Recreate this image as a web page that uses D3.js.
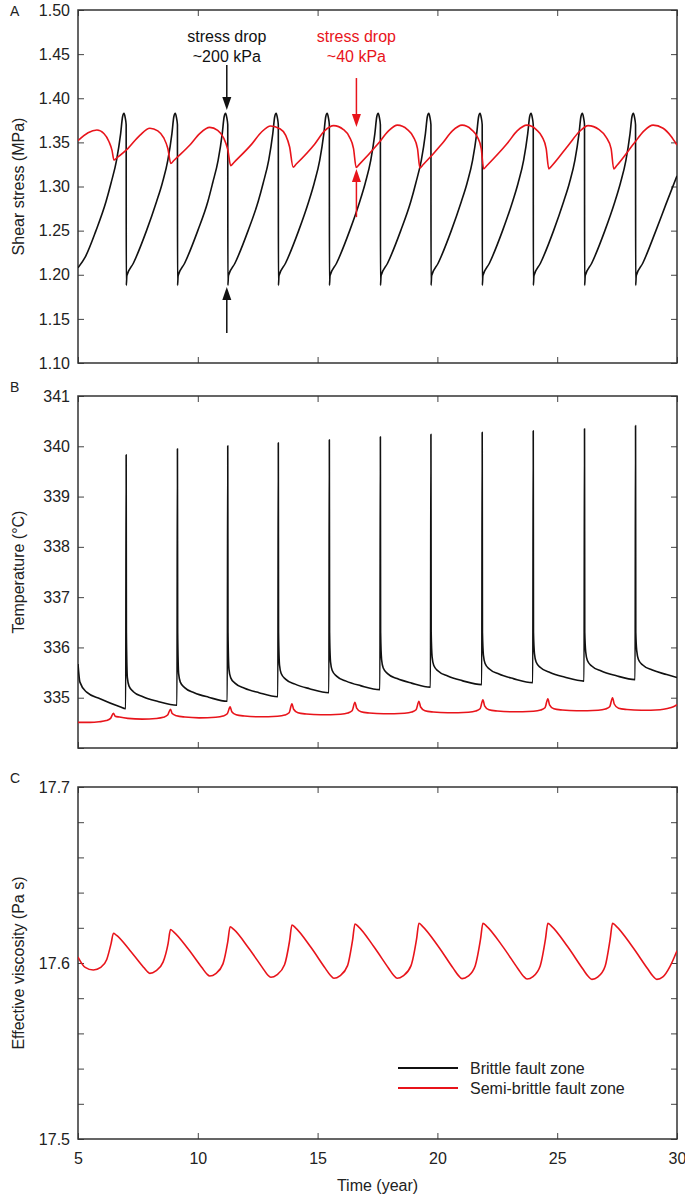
<!DOCTYPE html>
<meta charset="utf-8">
<style>
  body { margin: 0; background: #fff; }
  svg text { font-family: "Liberation Sans", Arial, Helvetica, sans-serif; fill: #222; }
</style>
<body>
<div id="chart"></div>
<script src="https://cdn.jsdelivr.net/npm/d3@7"></script>
<script>
// ---- data ----
var timeTicks = [5, 10, 15, 20, 25, 30];
var stressTicks = [1.10, 1.15, 1.20, 1.25, 1.30, 1.35, 1.40, 1.45, 1.50];
var tempTicks = [334, 335, 336, 337, 338, 339, 340, 341];
var tempLabels = [335, 336, 337, 338, 339, 340, 341];
var viscTicks = [17.50, 17.52, 17.54, 17.56, 17.58, 17.60, 17.62, 17.64, 17.66, 17.68, 17.70];
var viscLabels = [17.5, 17.6, 17.7];
var seriesNames = ["Brittle fault zone", "Semi-brittle fault zone"];

// [time (year), shear stress (MPa)]
var stressBrittle = [
  [5.00,1.208],[5.30,1.220],[5.75,1.250],[6.17,1.283],[6.38,1.304],[6.61,1.330],[6.78,1.360],[6.86,1.379],[6.92,1.383],[6.97,1.378],[7.01,1.370],[7.015,1.188],[7.04,1.199],
  [7.31,1.213],[7.86,1.250],[8.28,1.283],[8.52,1.304],[8.75,1.330],[8.92,1.360],[9.00,1.379],[9.06,1.383],[9.11,1.378],[9.15,1.370],[9.155,1.188],[9.18,1.199],
  [9.45,1.213],[10.00,1.250],[10.42,1.283],[10.62,1.304],[10.85,1.330],[11.02,1.360],[11.10,1.379],[11.16,1.383],[11.21,1.378],[11.25,1.370],[11.255,1.188],[11.28,1.199],
  [11.55,1.213],[12.10,1.250],[12.52,1.283],[12.73,1.304],[12.96,1.330],[13.13,1.360],[13.21,1.379],[13.27,1.383],[13.32,1.378],[13.36,1.370],[13.365,1.188],[13.39,1.199],
  [13.66,1.213],[14.21,1.250],[14.63,1.283],[14.86,1.304],[15.09,1.330],[15.26,1.360],[15.34,1.379],[15.40,1.383],[15.45,1.378],[15.49,1.370],[15.495,1.188],[15.52,1.199],
  [15.79,1.213],[16.34,1.250],[16.76,1.283],[16.99,1.304],[17.22,1.330],[17.39,1.360],[17.47,1.379],[17.53,1.383],[17.58,1.378],[17.62,1.370],[17.625,1.188],[17.65,1.199],
  [17.92,1.213],[18.47,1.250],[18.89,1.283],[19.10,1.304],[19.33,1.330],[19.50,1.360],[19.58,1.379],[19.64,1.383],[19.69,1.378],[19.73,1.370],[19.735,1.188],[19.76,1.199],
  [20.03,1.213],[20.58,1.250],[21.00,1.283],[21.24,1.304],[21.47,1.330],[21.64,1.360],[21.72,1.379],[21.78,1.383],[21.83,1.378],[21.87,1.370],[21.875,1.188],[21.90,1.199],
  [22.17,1.213],[22.72,1.250],[23.14,1.283],[23.37,1.304],[23.60,1.330],[23.77,1.360],[23.85,1.379],[23.91,1.383],[23.96,1.378],[24.00,1.370],[24.005,1.188],[24.03,1.199],
  [24.30,1.213],[24.85,1.250],[25.27,1.283],[25.51,1.304],[25.74,1.330],[25.91,1.360],[25.99,1.379],[26.05,1.383],[26.10,1.378],[26.14,1.370],[26.145,1.188],[26.17,1.199],
  [26.44,1.213],[26.99,1.250],[27.41,1.283],[27.64,1.304],[27.87,1.330],[28.04,1.360],[28.12,1.379],[28.18,1.383],[28.23,1.378],[28.27,1.370],[28.275,1.188],[28.30,1.199],
  [28.57,1.213],[29.12,1.250],[29.54,1.280],[30.00,1.312]
];

var stressSemi = [
  [5.00,1.352],[5.42,1.361],[5.79,1.364],[6.08,1.360],[6.29,1.351],[6.42,1.341],[6.50,1.330],
  [6.62,1.3325],[7.08,1.343],[7.58,1.358],[8.00,1.366],[8.33,1.363],[8.58,1.355],[8.75,1.343],[8.875,1.326],
  [8.99,1.3292],[9.67,1.347],[10.08,1.360],[10.50,1.367],[10.83,1.3635],[11.08,1.355],[11.25,1.342],[11.375,1.3235],
  [11.49,1.3267],[12.25,1.348],[12.67,1.362],[13.04,1.3685],[13.42,1.3655],[13.67,1.358],[13.83,1.345],[13.98,1.322],
  [14.10,1.3252],[14.875,1.348],[15.29,1.363],[15.67,1.369],[16.08,1.3645],[16.33,1.356],[16.50,1.343],[16.61,1.3215],
  [16.73,1.3248],[17.54,1.349],[17.96,1.363],[18.33,1.3695],[18.75,1.3645],[19.00,1.356],[19.17,1.343],[19.27,1.321],
  [19.39,1.3243],[20.21,1.349],[20.625,1.363],[21.03,1.3695],[21.42,1.3645],[21.67,1.356],[21.83,1.343],[21.93,1.320],
  [22.05,1.3233],[22.92,1.349],[23.33,1.363],[23.74,1.3695],[24.125,1.3645],[24.375,1.356],[24.54,1.343],[24.65,1.320],
  [24.77,1.3233],[25.50,1.348],[25.92,1.362],[26.29,1.369],[26.75,1.3645],[27.04,1.356],[27.25,1.343],[27.36,1.320],
  [27.48,1.3235],[28.21,1.349],[28.625,1.363],[29.00,1.3695],[29.42,1.366],[29.75,1.357],[30.00,1.347]
];

// [time (year), temperature (°C)]
var tempBrittle = [
  [5.00,335.67],[5.08,335.31],[5.36,335.11],[5.92,334.98],[6.75,334.82],[6.99,334.78],[7.01,339.83],
  [7.02,336.3],[7.06,335.40],[7.13,335.23],[7.31,335.12],[7.71,335.02],[8.31,334.93],[9.13,334.85],[9.15,339.95],
  [9.16,336.3],[9.20,335.48],[9.27,335.31],[9.45,335.20],[9.85,335.10],[10.45,335.01],[11.23,334.93],[11.25,340.01],
  [11.26,336.3],[11.30,335.57],[11.37,335.40],[11.55,335.29],[11.95,335.19],[12.55,335.10],[13.34,335.02],[13.36,340.07],
  [13.37,336.3],[13.41,335.65],[13.48,335.48],[13.66,335.37],[14.06,335.27],[14.66,335.18],[15.47,335.10],[15.49,340.13],
  [15.50,336.3],[15.54,335.71],[15.61,335.54],[15.79,335.43],[16.19,335.33],[16.79,335.24],[17.60,335.16],[17.62,340.19],
  [17.63,336.3],[17.67,335.76],[17.74,335.59],[17.92,335.48],[18.32,335.38],[18.92,335.29],[19.71,335.21],[19.73,340.24],
  [19.74,336.3],[19.78,335.81],[19.85,335.64],[20.03,335.53],[20.43,335.43],[21.03,335.34],[21.85,335.26],[21.87,340.28],
  [21.88,336.3],[21.92,335.85],[21.99,335.68],[22.17,335.57],[22.57,335.47],[23.17,335.38],[23.98,335.30],[24.00,340.31],
  [24.01,336.3],[24.05,335.88],[24.12,335.71],[24.30,335.60],[24.70,335.50],[25.30,335.41],[26.12,335.33],[26.14,340.35],
  [26.15,336.3],[26.19,335.91],[26.26,335.74],[26.44,335.63],[26.84,335.53],[27.44,335.44],[28.25,335.36],[28.27,340.41],
  [28.28,336.3],[28.32,335.93],[28.39,335.76],[28.57,335.65],[28.97,335.55],[29.57,335.46],[30.00,335.40]
];

var tempSemi = [
  [5.00,334.51],[5.50,334.51],[5.88,334.522],[6.18,334.545],[6.36,334.59],[6.48,334.69],
  [6.55,334.633],[6.73,334.615],[7.08,334.59],[7.68,334.575],[8.26,334.587],[8.56,334.61],[8.74,334.655],[8.86,334.77],
  [8.93,334.685],[9.11,334.64],[9.46,334.615],[10.06,334.60],[10.75,334.612],[11.05,334.635],[11.23,334.68],[11.35,334.82],
  [11.42,334.72],[11.60,334.66],[11.95,334.635],[12.55,334.62],[13.33,334.632],[13.63,334.655],[13.81,334.70],[13.93,334.88],
  [14.00,334.77],[14.18,334.70],[14.53,334.675],[15.13,334.66],[15.96,334.672],[16.26,334.695],[16.44,334.74],[16.56,334.91],
  [16.63,334.795],[16.81,334.72],[17.16,334.695],[17.76,334.68],[18.63,334.692],[18.93,334.715],[19.11,334.76],[19.23,334.93],
  [19.30,334.815],[19.48,334.74],[19.83,334.715],[20.43,334.70],[21.30,334.712],[21.60,334.735],[21.78,334.78],[21.90,334.96],
  [21.97,334.84],[22.15,334.76],[22.50,334.735],[23.10,334.72],[24.01,334.732],[24.31,334.755],[24.49,334.80],[24.61,334.98],
  [24.68,334.86],[24.86,334.78],[25.21,334.755],[25.81,334.74],[26.71,334.752],[27.01,334.775],[27.19,334.82],[27.31,335.00],
  [27.38,334.875],[27.56,334.79],[27.91,334.765],[28.51,334.75],[29.30,334.762],[29.60,334.785],[29.85,334.82],[30.00,334.86]
];

// [time (year), effective viscosity (log Pa s)]
var viscSemi = [
  [5.00,17.6034],[5.30,17.5975],[5.64,17.5960],[5.95,17.5975],[6.20,17.6020],[6.38,17.6110],[6.48,17.6169],
  [6.60,17.6158],[7.16,17.6073],[7.70,17.5982],[7.88,17.5953],[8.00,17.5941],[8.25,17.5955],[8.55,17.6005],[8.76,17.6110],[8.86,17.6190],
  [8.99,17.6177],[9.60,17.6079],[10.17,17.5974],[10.37,17.5939],[10.50,17.5926],[10.75,17.5940],[11.05,17.5995],[11.25,17.6120],[11.35,17.6206],
  [11.49,17.6192],[12.12,17.6085],[12.71,17.5971],[12.91,17.5933],[13.05,17.5919],[13.30,17.5933],[13.62,17.5990],[13.83,17.6125],[13.93,17.6216],
  [14.07,17.6201],[14.72,17.6089],[15.33,17.5968],[15.54,17.5929],[15.68,17.5913],[15.93,17.5927],[16.25,17.5985],[16.46,17.6130],[16.56,17.6222],
  [16.70,17.6207],[17.35,17.6092],[17.97,17.5969],[18.18,17.5929],[18.32,17.5913],[18.57,17.5927],[18.90,17.5985],[19.13,17.6135],[19.23,17.6226],
  [19.37,17.6210],[20.04,17.6094],[20.67,17.5968],[20.89,17.5927],[21.03,17.5911],[21.28,17.5925],[21.58,17.5985],[21.80,17.6135],[21.90,17.6226],
  [22.05,17.6210],[22.73,17.6093],[23.37,17.5966],[23.59,17.5925],[23.74,17.5909],[23.99,17.5923],[24.29,17.5983],[24.51,17.6135],[24.61,17.6226],
  [24.76,17.6210],[25.44,17.6092],[26.08,17.5964],[26.30,17.5923],[26.45,17.5907],[26.70,17.5921],[27.00,17.5981],[27.21,17.6135],[27.31,17.6226],
  [27.46,17.6210],[28.14,17.6092],[28.79,17.5964],[29.01,17.5923],[29.16,17.5907],[29.41,17.5921],[29.71,17.5981],[30.00,17.6070]
];

// ---- layout ----
var W = 685, H = 1199;
var left = 78, right = 677;
var black = "#111", red = "#e8141b";

var svg = d3.select("#chart").append("svg")
  .attr("width", W)
  .attr("height", H);

var x = d3.scaleLinear().domain([5, 30]).range([left, right]);

var line = function(y) {
  return d3.line()
    .x(function(d) { return x(d[0]); })
    .y(function(d) { return y(d[1]); })
    .curve(d3.curveMonotoneX);
};

var panels = [
  { id: "A", top: 10, bottom: 363, domain: [1.10, 1.50], ticks: stressTicks,
    fmt: d3.format(".2f"), title: "Shear stress (MPa)",
    series: [[stressBrittle, black], [stressSemi, red]] },
  { id: "B", top: 396, bottom: 748, domain: [334, 341], ticks: tempTicks,
    fmt: function(d) { return tempLabels.indexOf(d) >= 0 ? d : ""; }, title: "Temperature (°C)",
    series: [[tempBrittle, black], [tempSemi, red]] },
  { id: "C", top: 787, bottom: 1139, domain: [17.5, 17.7], ticks: viscTicks,
    fmt: function(d) { return viscLabels.indexOf(+d.toFixed(2)) >= 0 ? d3.format(".1f")(d) : ""; },
    title: "Effective viscosity (Pa s)",
    series: [[viscSemi, red]] }
];

panels.forEach(function(p, i) {
  var y = d3.scaleLinear().domain(p.domain).range([p.bottom, p.top]);
  p.y = y;
  var g = svg.append("g").attr("class", "panel");

  g.append("clipPath").attr("id", "clip" + p.id)
    .append("rect")
    .attr("x", left).attr("y", p.top)
    .attr("width", right - left).attr("height", p.bottom - p.top);

  // inward ticks on all four sides
  g.append("g")
    .attr("transform", "translate(" + left + ",0)")
    .call(d3.axisLeft(y).tickValues(p.ticks).tickSize(-6).tickPadding(8).tickFormat(p.fmt))
    .call(styleAxis);
  g.append("g")
    .attr("transform", "translate(" + right + ",0)")
    .call(d3.axisRight(y).tickValues(p.ticks).tickSize(-6).tickFormat(""))
    .call(styleAxis);
  g.append("g")
    .attr("transform", "translate(0," + p.top + ")")
    .call(d3.axisTop(x).tickValues(timeTicks).tickSize(-6).tickFormat(""))
    .call(styleAxis);
  g.append("g")
    .attr("transform", "translate(0," + p.bottom + ")")
    .call(d3.axisBottom(x).tickValues(timeTicks).tickSize(-6).tickPadding(14)
      .tickFormat(i == panels.length - 1 ? d3.format("d") : ""))
    .call(styleAxis);

  g.append("rect")
    .attr("x", left).attr("y", p.top)
    .attr("width", right - left).attr("height", p.bottom - p.top)
    .attr("fill", "none")
    .attr("stroke", "#333")
    .attr("stroke-width", 1.5);

  p.series.forEach(function(s) {
    g.append("path")
      .datum(s[0])
      .attr("clip-path", "url(#clip" + p.id + ")")
      .attr("fill", "none")
      .attr("stroke", s[1])
      .attr("stroke-width", 1.6)
      .attr("stroke-linejoin", "round")
      .attr("d", line(y));
  });

  // y title
  g.append("text")
    .attr("transform", "translate(24," + (p.top + p.bottom) / 2 + ") rotate(-90)")
    .attr("text-anchor", "middle")
    .style("font-size", "16px")
    .text(p.title);

  // panel letter
  g.append("text")
    .attr("x", 10)
    .attr("y", p.top + (i == 0 ? 6 : -4))
    .style("font-size", "14px")
    .text(p.id);
});

function styleAxis(sel) {
  sel.select(".domain").remove();
  sel.selectAll(".tick line").attr("stroke", "#444").attr("stroke-width", 1);
  sel.selectAll(".tick text")
    .style("font-size", "16px")
    .attr("fill", "#222");
}

// x title
svg.append("text")
  .attr("x", x(17.5))
  .attr("y", 1191)
  .attr("text-anchor", "middle")
  .style("font-size", "16px")
  .text("Time (year)");

// ---- stress drop annotations ----
var yA = panels[0].y;

function arrow(t, v0, v1, color) {
  var x0 = x(t), ya = yA(v0), yb = yA(v1);
  var dir = yb > ya ? 1 : -1;
  svg.append("line")
    .attr("x1", x0).attr("x2", x0)
    .attr("y1", ya).attr("y2", yb - dir * 10)
    .attr("stroke", color)
    .attr("stroke-width", 1.5);
  svg.append("path")
    .attr("d", "M" + (x0 - 4.5) + "," + (yb - dir * 13) + "L" + (x0 + 4.5) + "," + (yb - dir * 13) + "L" + x0 + "," + yb + "Z")
    .attr("fill", color);
}

function note(t, lines, color) {
  lines.forEach(function(s, k) {
    svg.append("text")
      .attr("x", x(t))
      .attr("y", 42 + k * 20)
      .attr("text-anchor", "middle")
      .style("font-size", "16px")
      .style("fill", color)
      .text(s);
  });
}

note(11.21, ["stress drop", "~200 kPa"], black);
arrow(11.21, 1.4376, 1.3866, black);
arrow(11.21, 1.134, 1.186, black);

note(16.62, ["stress drop", "~40 kPa"], red);
arrow(16.62, 1.4229, 1.3673, red);
arrow(16.62, 1.2653, 1.3197, red);

// ---- legend ----
var legend = svg.append("g").attr("transform", "translate(398,1068)");
seriesNames.forEach(function(name, i) {
  legend.append("line")
    .attr("x1", 0).attr("x2", 60)
    .attr("y1", i * 20).attr("y2", i * 20)
    .attr("stroke", i == 0 ? black : red)
    .attr("stroke-width", 2);
  legend.append("text")
    .attr("x", 72)
    .attr("y", i * 20 + 6)
    .style("font-size", "16px")
    .text(name);
});
</script>
</body>
